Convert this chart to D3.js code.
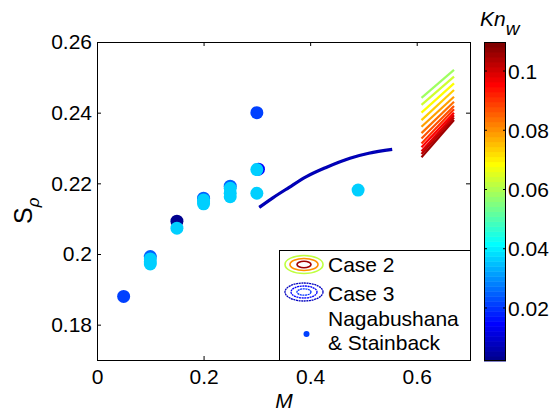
<!DOCTYPE html>
<meta charset="utf-8">
<style>
  body { margin: 0; background: #fff; }
  text { font-family: "Liberation Sans", Arial, sans-serif; }
</style>
<body>
<script src="https://cdn.jsdelivr.net/npm/d3@7"></script>
<script>

    var width = 554,
        height = 412;

    // Nagabushana & Stainback data points (M, S_rho, Kn_w)
    var dotM  = [0.05, 0.1, 0.1, 0.1, 0.1, 0.15, 0.15, 0.2, 0.2, 0.2, 0.2, 0.25, 0.25, 0.25, 0.25, 0.303, 0.3, 0.3, 0.3, 0.49];
    var dotS  = [0.188, 0.1993, 0.1986, 0.1978, 0.1972, 0.2093, 0.2073, 0.2158, 0.2153, 0.2147, 0.2142, 0.2192, 0.2186, 0.2172, 0.2162, 0.224, 0.2239, 0.24, 0.2172, 0.2181];
    var dotKn = [0.022, 0.024, 0.037, 0.037, 0.037, 0.003, 0.037, 0.024, 0.037, 0.037, 0.037, 0.024, 0.037, 0.037, 0.037, 0.015, 0.037, 0.022, 0.037, 0.037];

    // Case 3 curve
    var case3M = [0.3045, 0.33, 0.36, 0.393, 0.43, 0.4747, 0.51, 0.554];
    var case3S = [0.2132, 0.2159, 0.2188, 0.2219, 0.2245, 0.2271, 0.2285, 0.2296];
    var case3Kn = 0.0055;

    // Case 2 lines: S at the two ends, one line per Kn_w
    var case2M = [0.609, 0.67];
    var case2Left  = [0.2442, 0.2422, 0.2400, 0.2379, 0.2360, 0.2342, 0.2327, 0.2313, 0.2302, 0.2291, 0.2283, 0.2274];
    var case2Right = [0.2521, 0.2502, 0.2483, 0.2464, 0.2445, 0.2431, 0.2419, 0.2410, 0.2400, 0.2393, 0.2386, 0.2379];
    var case2Kn    = [0.059, 0.064, 0.069, 0.074, 0.079, 0.083, 0.087, 0.091, 0.095, 0.099, 0.102, 0.105];

    var xTicks = [0, 0.2, 0.4, 0.6];
    var yTicks = [0.18, 0.2, 0.22, 0.24, 0.26];
    var cTicks = [0.02, 0.04, 0.06, 0.08, 0.1];

    var x = d3.scaleLinear().domain([0, 0.7]).range([97, 470]);
    var y = d3.scaleLinear().domain([0.17, 0.26]).range([360, 42]);
    var cbar = d3.scaleLinear().domain([0.0021, 0.1098]).range([361, 42]);

    // matlab jet(64)
    function jetMap(n) {
        var m = Math.ceil(n / 4), u = [], i;
        for (i = 1; i <= m; i++) u.push(i / m);
        for (i = 1; i < m; i++) u.push(1);
        for (i = m; i >= 1; i--) u.push(i / m);
        var g0 = Math.ceil(m / 2) - (n % 4 === 1 ? 1 : 0);
        var J = d3.range(n).map(function() { return [0, 0, 0]; });
        u.forEach(function(v, i) {
            var g = g0 + i + 1, r = g + m, b = g - m;
            if (g >= 1 && g <= n) J[g - 1][1] = v;
            if (r >= 1 && r <= n) J[r - 1][0] = v;
            if (b >= 1 && b <= n) J[b - 1][2] = v;
        });
        return J.map(function(c) { return d3.rgb(c[0] * 255, c[1] * 255, c[2] * 255).formatHex(); });
    }
    var jet = jetMap(64);
    var cDomain = cbar.domain();
    function knColor(k) {
        var i = Math.floor((k - cDomain[0]) / (cDomain[1] - cDomain[0]) * 64);
        return jet[Math.max(0, Math.min(63, i))];
    }

    var svg = d3.select("body").append("svg")
            .attr("width", width)
            .attr("height", height);

    // Case 2 lines
    var line = d3.line().x(function(d) { return x(d[0]); }).y(function(d) { return y(d[1]); });
    svg.append("g").selectAll("path")
            .data(case2Kn.map(function(k, i) { return {k: k, pts: [[case2M[0], case2Left[i]], [case2M[1], case2Right[i]]]}; }))
            .enter().append("path")
            .attr("d", function(d) { return line(d.pts); })
            .attr("fill", "none")
            .attr("stroke", function(d) { return knColor(d.k); })
            .attr("stroke-width", 2.2);

    // Case 3 curve (a few stacked contour lines)
    var case3Line = d3.line().curve(d3.curveMonotoneX)
            .x(function(d, i) { return x(case3M[i]); })
            .y(function(d) { return y(d); });
    svg.append("path")
            .attr("d", case3Line(case3S))
            .attr("fill", "none")
            .attr("stroke", knColor(case3Kn))
            .attr("stroke-width", 3.2);
    svg.append("path")
            .attr("d", case3Line(case3S))
            .attr("fill", "none")
            .attr("stroke", knColor(0.012))
            .attr("stroke-width", 0.8)
            .attr("stroke-dasharray", "2,2");

    // data points
    svg.append("g").selectAll("circle")
            .data(dotM.map(function(m, i) { return {m: m, s: dotS[i], k: dotKn[i]}; }))
            .enter().append("circle")
            .attr("cx", function(d) { return x(d.m); })
            .attr("cy", function(d) { return y(d.s); })
            .attr("r", 6.5)
            .attr("fill", function(d) { return knColor(d.k); });

    // axes, ticks inside
    function styleAxis(g) {
        g.select(".domain").remove();
        g.selectAll("line").attr("stroke", "#000");
        g.selectAll("text").attr("font-size", 21).attr("fill", "#000");
    }
    svg.append("g").attr("transform", "translate(97,0)")
            .call(d3.axisLeft(y).tickValues(yTicks).tickSize(-4).tickPadding(5).tickFormat(function(d) { return String(+d.toFixed(2)); }))
            .call(styleAxis);
    svg.append("g").attr("transform", "translate(470,0)")
            .call(d3.axisRight(y).tickValues(yTicks).tickSize(-4).tickFormat(""))
            .call(styleAxis);
    svg.append("g").attr("transform", "translate(0,360)")
            .call(d3.axisBottom(x).tickValues(xTicks).tickSize(-4).tickPadding(9).tickFormat(function(d) { return String(+d.toFixed(1)); }))
            .call(styleAxis);
    svg.append("g").attr("transform", "translate(0,42)")
            .call(d3.axisTop(x).tickValues(xTicks).tickSize(-4).tickFormat(""))
            .call(styleAxis);

    svg.append("rect")
            .attr("x", 97.5).attr("y", 42.5)
            .attr("width", 373).attr("height", 318)
            .attr("fill", "none").attr("stroke", "#000");

    // legend
    var lg = svg.append("g");
    lg.append("rect").attr("x", 279.5).attr("y", 250.5).attr("width", 191).attr("height", 110)
            .attr("fill", "#fff").attr("stroke", "#000");
    [[19, 9, knColor(0.062)], [14, 6, knColor(0.08)], [7, 3.2, knColor(0.105)]].forEach(function(e) {
        lg.append("ellipse").attr("cx", 304).attr("cy", 264.5).attr("rx", e[0]).attr("ry", e[1])
                .attr("fill", "none").attr("stroke", e[2]).attr("stroke-width", 1.6);
    });
    [[19, 9, knColor(0.008)], [13, 6, knColor(0.014)], [7, 3.2, knColor(0.02)]].forEach(function(e) {
        lg.append("ellipse").attr("cx", 304).attr("cy", 292).attr("rx", e[0]).attr("ry", e[1])
                .attr("fill", "none").attr("stroke", e[2]).attr("stroke-width", 1.3)
                .attr("stroke-dasharray", "2,0.6");
    });
    lg.append("circle").attr("cx", 306.5).attr("cy", 334).attr("r", 3).attr("fill", knColor(0.022));
    [["Case 2", 272], ["Case 3", 301], ["Nagabushana", 326], ["& Stainback", 350]].forEach(function(t) {
        lg.append("text").attr("x", 328).attr("y", t[1]).attr("font-size", 21).text(t[0]);
    });

    // colorbar
    var cb = svg.append("g");
    cb.selectAll("rect.c").data(jet).enter().append("rect")
            .attr("x", 484)
            .attr("y", function(d, i) { return cbar(cDomain[0] + (i + 1) * (cDomain[1] - cDomain[0]) / 64); })
            .attr("width", 22)
            .attr("height", (361 - 42) / 64 + 0.5)
            .attr("fill", function(d) { return d; });
    cb.append("rect").attr("x", 484.5).attr("y", 42.5).attr("width", 21).attr("height", 318)
            .attr("fill", "none").attr("stroke", "#000");
    cb.selectAll("line.l").data(cTicks).enter().append("line")
            .attr("x1", 484).attr("x2", 487)
            .attr("y1", function(d) { return cbar(d); }).attr("y2", function(d) { return cbar(d); })
            .attr("stroke", "#000");
    cb.selectAll("line.r").data(cTicks).enter().append("line")
            .attr("x1", 503).attr("x2", 506)
            .attr("y1", function(d) { return cbar(d); }).attr("y2", function(d) { return cbar(d); })
            .attr("stroke", "#000");
    cb.selectAll("text").data(cTicks).enter().append("text")
            .attr("x", 508)
            .attr("y", function(d) { return cbar(d); })
            .attr("dy", "0.36em")
            .attr("font-size", 21)
            .text(function(d) { return String(+d.toFixed(2)); });

    // titles
    var kn = svg.append("text").attr("x", 480).attr("y", 26).attr("font-size", 21).attr("font-style", "italic");
    kn.append("tspan").text("Kn");
    kn.append("tspan").attr("dy", 9).attr("font-size", 19).text("w");

    svg.append("text").attr("x", 284).attr("y", 408).attr("text-anchor", "middle")
            .attr("font-size", 21).attr("font-style", "italic").text("M");

    var yl = svg.append("text").attr("transform", "translate(32,224) rotate(-90)").attr("font-size", 25);
    yl.append("tspan").text("S");
    yl.append("tspan").attr("dy", 7).attr("font-size", 17).attr("font-style", "italic").text("ρ");

</script>
</body>
